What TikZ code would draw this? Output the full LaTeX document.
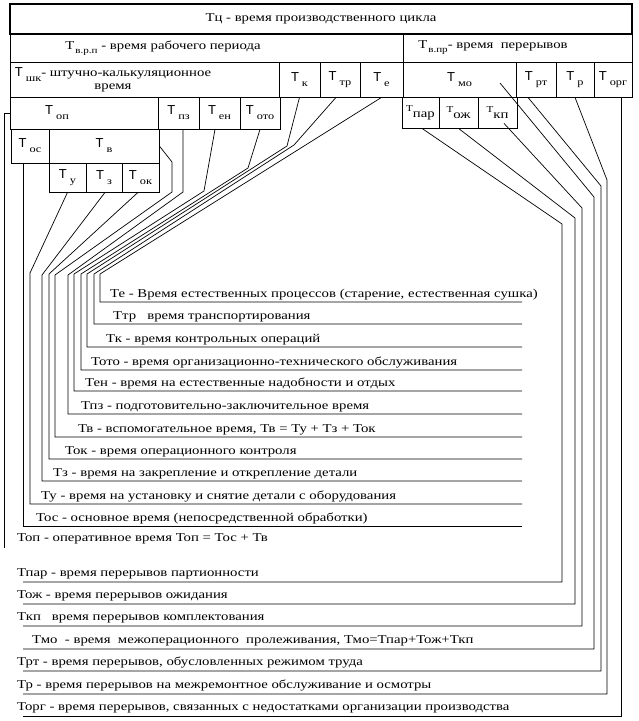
\documentclass[tikz,border=0pt]{standalone}
\usepackage{fontspec}
\setmainfont{Liberation Serif}[FakeStretch=1.23]
\newfontfamily\boxsans{Liberation Sans}
\usetikzlibrary{positioning}

% T with a lowered index, as in the boxes
\newcommand{\Tb}[1]{{\boxsans\fontsize{13}{13}\selectfont Т}\hspace{3pt}\raisebox{-5pt}{\fontsize{10}{10}\selectfont #1}}
\newcommand{\Tw}[1]{Т\hspace{1pt}\raisebox{-4pt}{\fontsize{9}{9}\selectfont #1}}
\newcommand{\Ts}[1]{\raisebox{4pt}{\fontsize{9}{9}\selectfont Т}\raisebox{-2pt}{#1}}

\tikzset{
  cell/.style={draw, line width=0.8pt, inner sep=0pt, font=\fontsize{12}{13}\selectfont},
  link/.style={line width=0.7pt},
  note/.style={anchor=base west, inner sep=0pt, font=\fontsize{12}{14}\selectfont}
}

\begin{document}
\begin{tikzpicture}[x=1pt, y=-1pt]
\useasboundingbox (0,0) rectangle (639,721);

% boxes
\node[cell, line width=1.6pt, minimum width=622pt, minimum height=30pt] (tc) at (321,19) {Тц - время производственного цикла};
\node[cell, minimum width=393pt, minimum height=28pt] (twrp) at (206.5,48) {};
\node[inner sep=0pt, font=\fontsize{12}{13}\selectfont] (twrp-txt) at (163,48) {\Tw{в.р.п} - время рабочего периода};
\node[cell, minimum width=229pt, minimum height=28pt] (twpr) at (517.5,48) {};
\node[inner sep=0pt, font=\fontsize{12}{13}\selectfont] (twpr-txt) at (493,48) {\Tw{в.пр}- время~ перерывов};
\draw[line width=1.6pt] (twrp.north east) -- (twrp.south east);

\node[cell, minimum width=269pt, minimum height=35pt] (tshk) at (144.5,79.5) {};
\node[inner sep=0pt, align=center, font=\fontsize{12}{13}\selectfont] (tshk-txt) at (113,80) {\Tb{шк}- штучно-калькуляционное\\время};
\node[cell, minimum width=41pt, minimum height=35pt] (tk) at (299.5,79.5) {\Tb{к}};
\node[cell, minimum width=40pt, minimum height=35pt] (ttr) at (340,79.5) {\Tb{тр}};
\node[cell, minimum width=43pt, minimum height=35pt] (te) at (381.5,79.5) {\Tb{е}};
\node[cell, minimum width=113pt, minimum height=35pt] (tmo) at (459.5,79.5) {\Tb{мо}};
\node[cell, minimum width=40pt, minimum height=35pt] (trt) at (536,79.5) {\Tb{рт}};
\node[cell, minimum width=38pt, minimum height=35pt] (tr) at (575,79.5) {\Tb{р}};
\node[cell, minimum width=38pt, minimum height=35pt] (torg) at (613,79.5) {\Tb{орг}};

\node[cell, minimum width=148pt, minimum height=32pt] (top) at (84,113) {};
\node[inner sep=0pt] (top-txt) at (57,113) {\Tb{оп}};
\node[cell, minimum width=41pt, minimum height=32pt] (tpz) at (178.5,113) {\Tb{пз}};
\node[cell, minimum width=41pt, minimum height=32pt] (ten) at (219.5,113) {\Tb{ен}};
\node[cell, minimum width=40pt, minimum height=32pt] (toto) at (260,113) {\Tb{ото}};
\node[cell, minimum width=37pt, minimum height=31pt] (tpar) at (420.5,112.5) {\Ts{пар}};
\node[cell, minimum width=39pt, minimum height=31pt] (tozh) at (458.5,112.5) {\Ts{ож}};
\node[cell, minimum width=39pt, minimum height=31pt] (tkp) at (497.5,112.5) {\Ts{кп}};

\node[cell, minimum width=38pt, minimum height=34pt] (tos) at (30,146) {\Tb{ос}};
\node[cell, minimum width=110pt, minimum height=34pt] (tv) at (104,146) {\Tb{в}};
\node[cell, minimum width=37pt, minimum height=29pt] (tu) at (67.5,177.5) {\Tb{у}};
\node[cell, minimum width=36pt, minimum height=29pt] (tz) at (104,177.5) {\Tb{з}};
\node[cell, minimum width=37pt, minimum height=29pt] (tok) at (140.5,177.5) {\Tb{ок}};

% legend, upper part
\node[note] (le)   at (110,297) {Те - Время естественных процессов (старение, естественная сушка)};
\node[note] (ltr)  at (113,319) {Ттр \ \ время транспортирования};
\node[note] (lk)   at (106,342) {Тк - время контрольных операций};
\node[note] (loto) at (91,365)  {Тото - время организационно-технического обслуживания};
\node[note] (len)  at (85,386)  {Тен - время на естественные надобности и отдых};
\node[note] (lpz)  at (81,409)  {Тпз - подготовительно-заключительное время};
\node[note] (lv)   at (78,432)  {Тв - вспомогательное время, Тв = Ту + Тз + Ток};
\node[note] (lok)  at (65,454)  {Ток - время операционного контроля};
\node[note] (lz)   at (53,476)  {Тз - время на закрепление и открепление детали};
\node[note] (lu)   at (41,499)  {Ту - время на установку и снятие детали с оборудования};
\node[note] (los)  at (36,521)  {Тос - основное время (непосредственной обработки)};
\node[note] (lop)  at (17,541)  {Топ - оперативное время Топ = Тос + Тв};

% legend, lower part
\node[note] (lpar) at (17,576) {Тпар - время перерывов партионности};
\node[note] (lozh) at (17,598) {Тож - время перерывов ожидания};
\node[note] (lkp)  at (17,620) {Ткп \ \ время перерывов комплектования};
\node[note] (lmo)  at (32,643) {Тмо~ - время~ межоперационного~ пролеживания, Тмо=Тпар+Тож+Ткп};
\node[note] (lrt)  at (17,665) {Трт - время перерывов, обусловленных режимом труда};
\node[note] (lr)   at (17,688) {Тр - время перерывов на межремонтное обслуживание и осмотры};
\node[note] (lorg) at (17,710) {Торг - время перерывов, связанных с недостатками организации производства};

% ends of the underlines
\coordinate (e-end)   at (522,302);
\coordinate (tr-end)  at (522,324);
\coordinate (k-end)   at (522,347);
\coordinate (oto-end) at (522,370);
\coordinate (en-end)  at (522,391);
\coordinate (pz-end)  at (522,414);
\coordinate (v-end)   at (522,437);
\coordinate (ok-end)  at (522,459);
\coordinate (z-end)   at (522,481);
\coordinate (u-end)   at (522,504);
\coordinate (os-end)  at (522,526);
\coordinate (op-end)  at (4,548);
\coordinate (par-end) at (23,582);
\coordinate (ozh-end) at (23,604);
\coordinate (kp-end)  at (23,626);
\coordinate (mo-end)  at (23,649);
\coordinate (rt-end)  at (23,671);
\coordinate (r-end)   at (23,694);
\coordinate (org-end) at (23,716);

% connectors to the left column
\draw[link] (te.south) -- (100,274) |- (e-end);
\draw[link] ([xshift=-4pt]ttr.south) -- (294,145) -- (94,274) |- (tr-end);
\draw[link] (tk.south) -- (287,146) -- (87,274) |- (k-end);
\draw[link] (toto.south) -- (248,168) -- (81,274) |- (oto-end);
\draw[link] ([xshift=-4.5pt]ten.south) -- (204,191) -- (74,274) |- (en-end);
\draw[link] ([xshift=4.5pt]tpz.south) -- (183,192) -- (68,275) |- (pz-end);
\draw[link] (tv.east) -- (172,162) -- (172,192) -- (55,275) |- (v-end);
\draw[link] ([xshift=-2.5pt]tok.south) -- (49,274) |- (ok-end);
\draw[link] ([xshift=1pt]tz.south) -- (42,275) |- (z-end);
\draw[link] (tu.south) -- (30,273) |- (u-end);
\draw[link] ([xshift=-7pt]tos.south) |- (os-end);
\draw[link] (top.west) -- (4,113) -- (op-end);

% connectors to the right column
\draw[link] ([xshift=1.5pt]tpar.south) -- (562,224) |- (par-end);
\draw[link] (tozh.south) -- (575,218) |- (ozh-end);
\draw[link] ([xshift=6.5pt, yshift=5pt]tkp.south) -- (582,208) |- (kp-end);
\draw[link] ([xshift=40.5pt, yshift=-3.5pt]tmo.center) -- (594,197) |- (mo-end);
\draw[link] ([xshift=-8pt]trt.south) -- (601,186) |- (rt-end);
\draw[link] (tr.south) -- (607,180) |- (r-end);
\draw[link] ([xshift=8pt]torg.south) |- (org-end);
\end{tikzpicture}
\end{document}
